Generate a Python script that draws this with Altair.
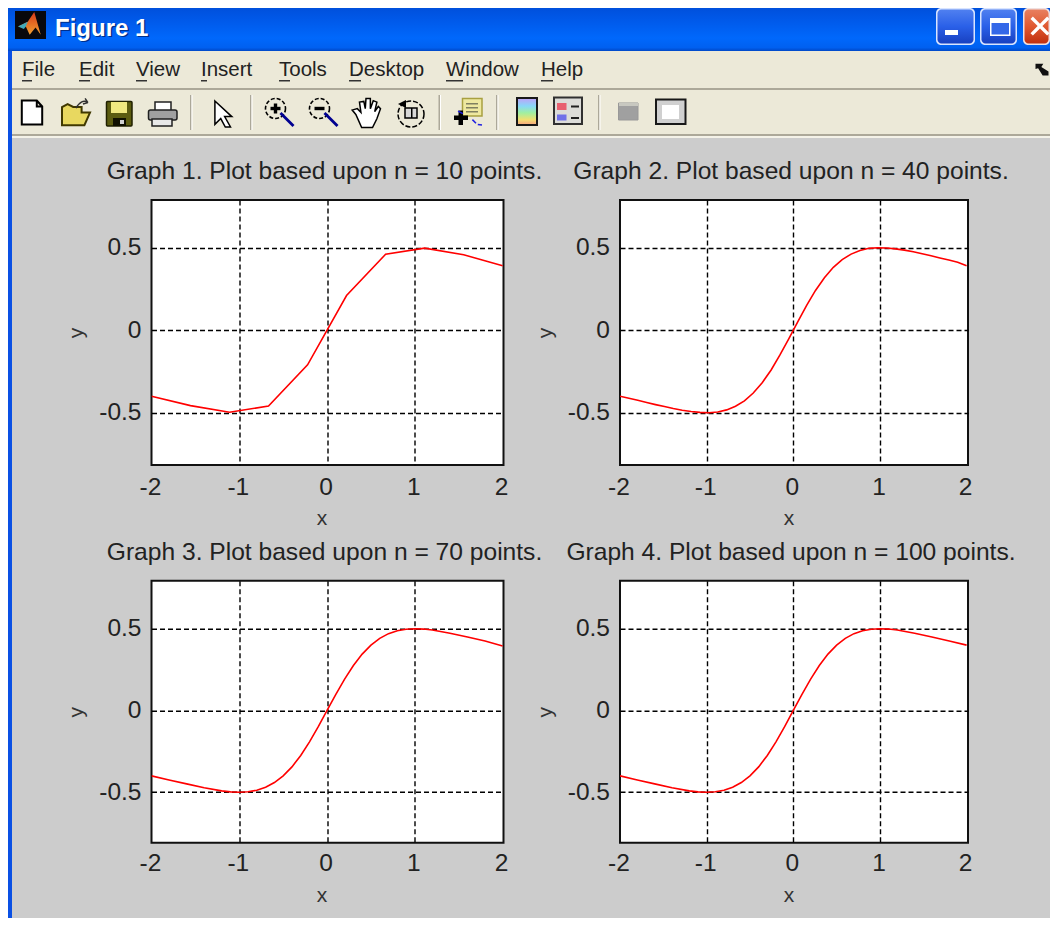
import altair as alt
import pandas as pd

FONT = "Liberation Sans"

# ---------- chart values ----------
TITLES = [
    "Graph 1. Plot based upon n = 10 points.",
    "Graph 2. Plot based upon n = 40 points.",
    "Graph 3. Plot based upon n = 70 points.",
    "Graph 4. Plot based upon n = 100 points.",
]
X_TICKS = [-2, -1, 0, 1, 2]
Y_TICKS = [-0.5, 0, 0.5]

x1 = [-2, -1.556, -1.111, -0.667, -0.222, 0.222, 0.667, 1.111, 1.556, 2]
y1 = [-0.40, -0.457, -0.497, -0.46, -0.21, 0.21, 0.46, 0.497, 0.457, 0.39]

x2 = [-2, -1.897, -1.795, -1.692, -1.59, -1.487, -1.385, -1.282, -1.179, -1.077,
      -0.974, -0.872, -0.769, -0.667, -0.564, -0.462, -0.359, -0.256, -0.154, -0.051,
      0.051, 0.154, 0.256, 0.359, 0.462, 0.564, 0.667, 0.769, 0.872, 0.974,
      1.077, 1.179, 1.282, 1.385, 1.487, 1.59, 1.692, 1.795, 1.897, 2]
y2 = [-0.40, -0.412, -0.425, -0.438, -0.451, -0.463, -0.475, -0.485, -0.493, -0.498,
      -0.5, -0.496, -0.483, -0.461, -0.428, -0.381, -0.318, -0.241, -0.15, -0.051,
      0.051, 0.15, 0.241, 0.318, 0.381, 0.428, 0.461, 0.483, 0.496, 0.5,
      0.498, 0.493, 0.485, 0.475, 0.463, 0.451, 0.438, 0.425, 0.412, 0.39]

x3 = [-2, -1.8, -1.6, -1.4, -1.2, -1.1, -1, -0.9, -0.8, -0.7, -0.6, -0.5, -0.4, -0.3, -0.2, -0.1,
      0, 0.1, 0.2, 0.3, 0.4, 0.5, 0.6, 0.7, 0.8, 0.9, 1, 1.1, 1.2, 1.4, 1.6, 1.8, 2]
y3 = [-0.40, -0.425, -0.449, -0.473, -0.492, -0.498, -0.5, -0.497, -0.488, -0.47, -0.441, -0.40,
      -0.345, -0.275, -0.192, -0.099, 0, 0.099, 0.192, 0.275, 0.345, 0.40, 0.441, 0.47, 0.488,
      0.497, 0.5, 0.498, 0.492, 0.473, 0.449, 0.425, 0.395]
x4 = list(x3)
y4 = [-0.40, -0.425, -0.449, -0.473, -0.492, -0.498, -0.5, -0.497, -0.488, -0.47, -0.441, -0.40,
      -0.345, -0.275, -0.192, -0.099, 0, 0.099, 0.192, 0.275, 0.345, 0.40, 0.441, 0.47, 0.488,
      0.497, 0.5, 0.498, 0.492, 0.473, 0.449, 0.425, 0.40]

MENU = ["File", "Edit", "View", "Insert", "Tools", "Desktop", "Window", "Help"]
WINDOW_TITLE = "Figure 1"

# ---------- layout constants (page pixels) ----------
OX, OY = 8, 200          # page position of the first grid cell
RIGHT, BOTTOM = 1050, 918  # the page margin keeps the chart inside these
MENU_X = [22, 79, 136, 201, 279, 349, 446, 541]
UNDER_W = [10, 11, 11, 6, 11, 12, 17, 12]
SEPS = [191, 251, 439.5, 497, 599]
ONE = alt.Data(values=[{"a": 1}])


def R(x0, y0, x1_, y1_, fill, stroke=None, sw=1, radius=0):
    kw = {"fill": fill, "cornerRadius": radius}
    if stroke:
        kw.update(stroke=stroke, strokeWidth=sw)
    return alt.Chart(ONE).mark_rect(**kw).encode(
        x=alt.value(x0 - OX), x2=alt.value(x1_ - OX),
        y=alt.value(y0 - OY), y2=alt.value(y1_ - OY))


def T(x, y, s, size=20, color="#222222", weight="normal"):
    return alt.Chart(ONE).mark_text(
        align="left", baseline="alphabetic", font=FONT, fontSize=size,
        color=color, fontWeight=weight).encode(
        x=alt.value(x - OX), y=alt.value(y - OY), text=alt.value(s))


def P(cx, cy, d, path, fill=None, stroke=None, sw=1, dash=None):
    kw = dict(shape=path, size=d * d, filled=True, opacity=1,
              fill=fill or "transparent")
    if stroke:
        kw.update(stroke=stroke, strokeWidth=sw)
    if dash:
        kw["strokeDash"] = dash
    return alt.Chart(ONE).mark_point(**kw).encode(
        x=alt.value(cx - OX), y=alt.value(cy - OY))


def grad(stops, vertical=True):
    return alt.Gradient(
        gradient="linear", x1=0, y1=0, x2=0 if vertical else 1, y2=1 if vertical else 0,
        stops=[alt.GradientStop(offset=o, color=c) for o, c in stops])


def button(x0, x1_, stops, edge):
    return [R(x0, 8, x1_, 45, edge, radius=5),
            R(x0 + 1.5, 9.5, x1_ - 1.5, 43.5, grad(stops), radius=4)]


layers = []
# left window border, full height
layers.append(R(8, 8, 12, BOTTOM, "#0a50e4"))
# title bar
layers.append(R(8, 8, RIGHT, 51, grad([(0, "#0050dc"), (0.25, "#0058e8"), (0.7, "#0068fc"),
                                       (0.92, "#0060f0"), (1, "#0048c8")])))
# logo
layers.append(R(15, 11, 46, 39, "#08080c"))
layers.append(P(31, 25, 26, "M-1,.12 L-.25,-.25 L.25,-1 L.75,.75 L.35,.2 L-.1,.75 L-.4,.12 Z",
                grad([(0, "#d83818"), (1, "#f0a030")])))
layers.append(P(31, 25, 26, "M-1,.12 L-.25,-.25 L-.4,.12 L-.55,.3 Z", "#40a8b8"))
# title text
layers.append(T(56.5, 37, WINDOW_TITLE, 24, "#00308c", "bold"))
layers.append(T(55, 35.5, WINDOW_TITLE, 24, "#ffffff", "bold"))
# window buttons
BTN = [(0, "#5080f0"), (0.5, "#2a60e8"), (1, "#1840c0")]
layers += button(936, 975, BTN, "#d8e4ff")
layers.append(R(945, 30, 958, 35, "#ffffff"))
layers += button(980, 1017, BTN, "#d8e4ff")
layers.append(R(990, 18, 1010.5, 36, "#ffffff"))
layers.append(R(991.5, 23, 1009, 34.5, "#3468e8"))
layers += button(1023, RIGHT, [(0, "#e88060"), (0.5, "#e05830"), (1, "#c03010")], "#f0e0e0")
layers.append(P(1040, 26, 19, "M-1,-.75 L-.75,-1 L0,-.25 L.75,-1 L1,-.75 L.25,0 L1,.75 L.75,1 L0,.25 L-.75,1 L-1,.75 L-.25,0 Z", "#ffffff"))
# menu bar, toolbar, separators
layers.append(R(12, 51, RIGHT, 88, "#ece9d8"))
layers.append(R(12, 88, RIGHT, 90, "#aca899"))
layers.append(R(12, 90, RIGHT, 134, "#ece9d8"))
layers.append(R(12, 134, RIGHT, 136, "#aca899"))
layers.append(R(12, 136, RIGHT, 138, "#f4f2e8"))
for s, mx, uw in zip(MENU, MENU_X, UNDER_W):
    layers.append(T(mx, 76, s, 20.5, "#222222"))
    layers.append(R(mx, 80, mx + uw, 81.5, "#333333"))
layers.append(P(1042, 69, 13, "M-1,-.8 L.2,-.8 L-.1,-.3 L1,.4 L1,1 L.1,1 L-.6,-.1 L-1,0 Z", "#111111"))
for sx in SEPS:
    layers.append(R(sx - 1, 95, sx + 0.5, 130, "#aca899"))
    layers.append(R(sx + 0.5, 95, sx + 1.5, 130, "#ffffff"))

# toolbar icons
layers.append(P(32, 112.5, 24, "M-.85,-1 L.4,-1 L.85,-.5 L.85,1 L-.85,1 Z M.4,-1 L.4,-.5 L.85,-.5", "#ffffff", "#000000", 2))
layers.append(P(76, 114, 28, "M-1,.8 L-1,-.5 L-.6,-.7 L-.2,-.5 L.4,-.5 L.4,-.1 L1,-.1 L.6,.8 Z", "#e8d860", "#403800", 2))
layers.append(P(83, 104, 14, "M-1,.6 Q-.2,-.8 .7,-.2 M.7,-.2 L.3,-.8 M.7,-.2 L0,0", None, "#303030", 1.5))
layers.append(R(106.5, 101.5, 132, 126, "#5c5c10", "#202000", 1.5, 1))
layers.append(R(111, 102, 127, 113, "#f0e880"))
layers.append(R(113, 118, 126, 126, "#101000"))
layers.append(R(120, 120, 124, 124, "#d0d0d0"))
layers.append(R(155, 102, 171, 111, "#ffffff", "#202020", 1.5))
layers.append(R(148.5, 110, 177, 120, "#a0a0a0", "#202020", 1.5, 2))
layers.append(R(152, 119, 172, 126, "#e8e8e8", "#202020", 1.5))
layers.append(P(224, 114, 26, "M-.7,-1 L.6,.2 L.05,.2 L.5,1 L.1,1 L-.25,.35 L-.7,.8 Z", "#ffffff", "#000000", 1.5))
for cx, plus in [(275.5, True), (319.5, False)]:
    layers.append(P(cx, 108.5, 20, "circle", "#ece9d8", "#000000", 1.6, [4, 2]))
    layers.append(R(cx - 5, 106.8, cx + 5, 110.2, "#000000"))
    if plus:
        layers.append(R(cx - 1.7, 103.5, cx + 1.7, 113.5, "#000000"))
    layers.append(P(cx + 11.5, 119.5, 13, "M-1,-1 L1,1", None, "#000090", 2.8))
layers.append(P(366, 113, 29, "M-.7,.1 L-.95,-.2 L-.6,-.3 L-.35,-.05 L-.45,-.75 L-.15,-.8 L-.05,-.3 L0,-1 L.3,-1 L.3,-.3 L.5,-.85 L.75,-.75 L.6,-.1 L.85,-.45 L1,-.3 L.75,.4 L.45,1 L-.3,1 Z",
                "#ffffff", "#000000", 1.5))
layers.append(P(411, 114, 26, "circle", "transparent", "#000000", 1.5, [5, 2]))
layers.append(P(402, 104, 8, "M1,-1 L-1,0 L1,1 Z", "#000000"))
layers.append(R(405, 108, 417, 118, "#d8d8d8", "#000000", 1.5))
layers.append(R(411, 108, 412.5, 118, "#000000"))
layers.append(R(462.5, 98.5, 482, 116, "#eee8a0", "#a8a040", 1.5))
for ly in (103, 107, 111):
    layers.append(R(466, ly, 478, ly + 1.5, "#808060"))
layers.append(R(454, 115.5, 468, 120, "#000000"))
layers.append(R(458.5, 110.5, 463, 125, "#000000"))
layers.append(P(470, 116, 24, "M-1,-.4 L-.6,-.2 M.2,.3 L.5,.6 M.65,.7 L1,.75", None, "#2020e0", 1.5))
layers.append(R(517, 98, 537, 125, grad([(0, "#c0a0f8"), (0.3, "#88d8f8"), (0.55, "#a0f0a0"), (0.8, "#f0e070"), (1, "#f8a080")]),
                "#181818", 2))
layers.append(R(554, 97.5, 582, 124, "#dcdcd8", "#303030", 2))
layers.append(R(557, 103, 566.5, 110, "#e86070"))
layers.append(R(557, 114.5, 566.5, 120.5, "#7070e8"))
layers.append(R(571, 105.5, 579, 107.5, "#202020"))
layers.append(R(571, 117, 579, 119, "#202020"))
layers.append(R(618.5, 103, 638, 120, "#a0a0a0", "#989898", 1))
layers.append(R(619, 103, 638, 106, "#c8c8c0"))
layers.append(R(656, 99.5, 685.5, 124, "#d0d0d0", "#181818", 2))
layers.append(R(662, 105, 679, 119, "#ffffff"))


def panel(xs, ys, title, width, height, x_domain, y_domain, title_x, label_pad):
    df = pd.DataFrame({"x": xs, "y": ys})
    return alt.Chart(df, title=alt.TitleParams(
        title, font=FONT, fontSize=24.6, fontWeight="normal", color="#222222",
        anchor="middle", offset=15, dx=-3)).mark_line(
        color="#ff0000", strokeWidth=1.6, clip=True).encode(
        x=alt.X("x:Q", scale=alt.Scale(domain=x_domain, nice=False, zero=False),
                axis=alt.Axis(values=X_TICKS, title="x", labelExpr="'' + datum.value",
                              grid=True, gridColor="#000000", gridDash=[5, 3], gridWidth=1.4,
                              gridOpacity=alt.expr("abs(datum.value) == 2 ? 0 : 1"),
                              domain=False, ticks=False, labelFont=FONT,
                              labelFontSize=24.5, labelColor="#222222", labelPadding=label_pad,
                              labelOffset=-1.5, labelFlush=False, labelOverlap=False,
                              titleFont=FONT, titleFontSize=21, titleFontWeight="normal",
                              titleColor="#333333", titleX=title_x, titleY=53,
                              titleBaseline="middle")),
        y=alt.Y("y:Q", scale=alt.Scale(domain=y_domain, nice=False, zero=False),
                axis=alt.Axis(values=Y_TICKS, title="y", labelExpr="'' + datum.value",
                              grid=True, gridColor="#000000", gridDash=[5, 3], gridWidth=1.4,
                              gridOpacity=1, domain=False, ticks=False, labelFont=FONT,
                              labelFontSize=24.5, labelColor="#222222", labelPadding=10.5,
                              labelOverlap=False, titleFont=FONT, titleFontSize=21,
                              titleFontWeight="normal", titleColor="#333333", titleX=-75,
                              titleY=height / 2, titleBaseline="middle")),
    ).properties(width=width, height=height,
                 view=alt.ViewConfig(fill="#ffffff", stroke="#111111", strokeWidth=2))


GAP = 116.5
LEFT = 151 - 8 - GAP
chrome = alt.layer(*layers).properties(width=LEFT, height=265)
blank = alt.Chart(ONE).mark_rect(opacity=0).encode(
    x=alt.value(0), x2=alt.value(1), y=alt.value(0), y2=alt.value(1)
).properties(width=LEFT, height=262)

XD_L = [-2, 2.01]
XD_R = [-2, 2.016]
YD1 = [-0.817, 0.789]
YD2 = [-0.809, 0.794]
p1 = panel(x1, y1, TITLES[0], 352, 265, XD_L, YD1, 170, 10)
p2 = panel(x2, y2, TITLES[1], 348, 265, XD_R, YD1, 168.5, 10)
p3 = panel(x3, y3, TITLES[2], 352, 262, XD_L, YD2, 170, 9)
p4 = panel(x4, y4, TITLES[3], 348, 262, XD_R, YD2, 168.5, 9)

chart = alt.concat(
    chrome, p1, p2, blank, p3, p4, columns=3, bounds="flush", align="each",
    spacing=alt.RowColnumber(row=115.7, column=GAP)
).properties(background="#cccccc", padding=0).configure_view(stroke=None)

chart.save("out.html", embed_options={"renderer": "svg", "actions": False})
